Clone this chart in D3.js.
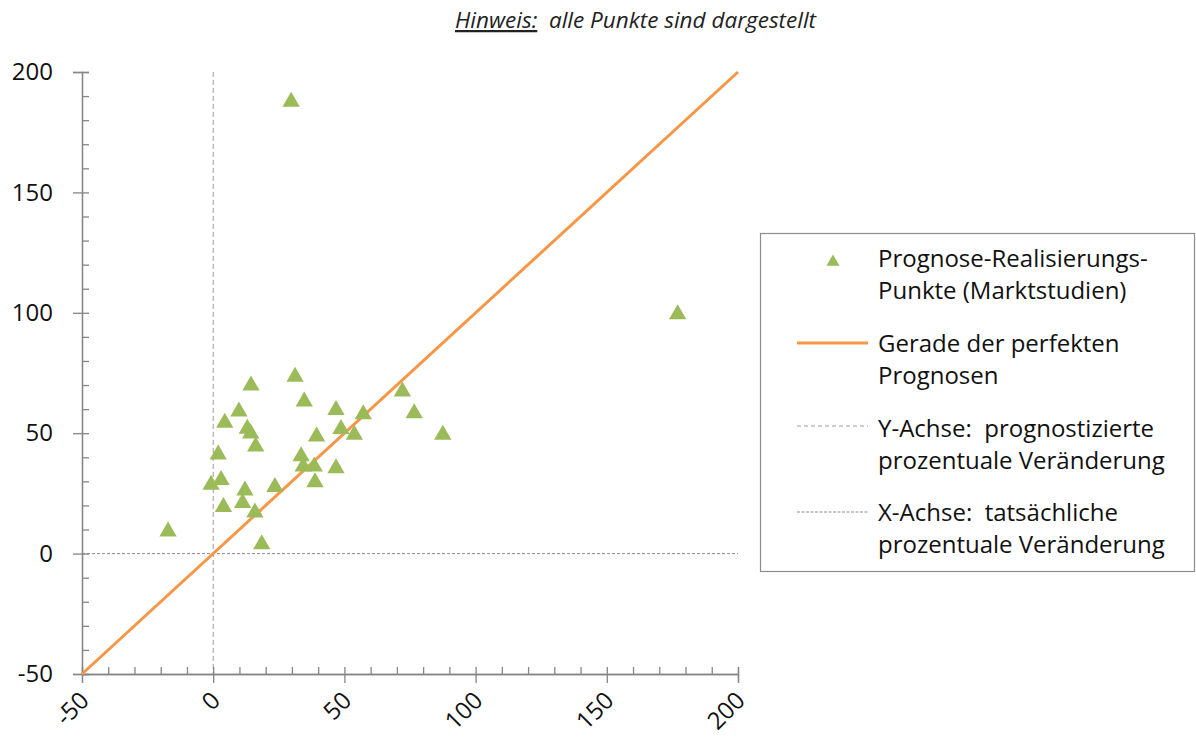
<!DOCTYPE html>
<html><head><meta charset="utf-8">
<script src="https://cdn.jsdelivr.net/npm/d3@7"></script>
<style>body{margin:0;background:#fff}svg{display:block}</style>
</head><body>
<svg id="c" width="1196" height="740"></svg>
<script>
// Data: x = tatsächliche Veränderung (%), y = prognostizierte Veränderung (%)
const actualChange = [29.7,177,-17.2,-0.8,1.9,3,3.9,4.4,9.8,14.4,13,14.3,16.2,12.1,11.2,15.9,23.5,18.5,31.2,34.7,46.8,72.1,57.2,76.6,48.7,53.8,87.5,39.4,33.5,34.3,38.5,46.8,38.8];
const forecastChange = [188.3,100,9.8,29.2,41.8,31.2,20,55,59.6,70.4,52.5,50.5,45.1,26.8,21.6,17.7,28.3,4.5,74.1,63.8,60.3,67.9,58.5,58.9,52.4,50,50,49.3,41,36.8,36.8,36.1,30.3];
const perfectLine = [-50, 200];
const majorTicks = [-50, 0, 50, 100, 150, 200];
const minorTicks = d3.range(-50, 201, 10);
const titleUnderlined = "Hinweis:";
const titleRest = "alle Punkte sind dargestellt";
const legendLabels = [
  ["Prognose-Realisierungs-", "Punkte (Marktstudien)"],
  ["Gerade der perfekten", "Prognosen"],
  ["Y-Achse:\u00a0 prognostizierte", "prozentuale Veränderung"],
  ["X-Achse:\u00a0 tatsächliche", "prozentuale Veränderung"]
];

const FONT = "'Open Sans', sans-serif";
const svg = d3.select("#c");
const x = d3.scaleLinear().domain([-50, 200]).range([82, 738]);
const y = d3.scaleLinear().domain([-50, 200]).range([674, 72]);
const axisColor = "#868686";
const green = "#9BBB59", orange = "#F79646";
const fmt = d => String(d);

// Title
const t = svg.append("text").attr("x", 455).attr("y", 28)
  .style("font-family", FONT).style("font-style", "italic").style("font-size", "22.5px").attr("fill", "#222");
t.append("tspan").text(titleUnderlined).style("text-decoration", "underline");
t.append("tspan").text("\u00a0\u00a0" + titleRest);

// zero reference lines
svg.append("line").attr("x1", x(0)).attr("x2", x(0)).attr("y1", y(200)).attr("y2", y(-50))
  .attr("stroke", "#9a9a9a").attr("stroke-width", 1).attr("stroke-dasharray", "5,3");
svg.append("line").attr("x1", x(-50)).attr("x2", x(200)).attr("y1", y(0)).attr("y2", y(0))
  .attr("stroke", "#8a8a8a").attr("stroke-width", 1).attr("stroke-dasharray", "3,2");

// Axes
function styleAxis(g) {
  g.selectAll(".domain").attr("stroke", axisColor).attr("stroke-width", 1.3);
  g.selectAll(".tick line").attr("stroke", axisColor).attr("stroke-width", 1.3);
}
// Y axis
const yMinor = svg.append("g").attr("transform", `translate(${x(-50)},0)`)
  .call(d3.axisRight(y).tickValues(minorTicks).tickSize(7).tickFormat(""));
yMinor.call(styleAxis);
const yMajor = svg.append("g").attr("transform", `translate(${x(-50)},0)`)
  .call(d3.axisLeft(y).tickValues(majorTicks).tickSize(9).tickPadding(20).tickFormat(fmt));
yMajor.call(styleAxis);
yMajor.selectAll("text").style("font-family", FONT).style("font-size", "24px").attr("fill", "#111");

// X axis
const xMinor = svg.append("g").attr("transform", `translate(0,${y(-50)})`)
  .call(d3.axisTop(x).tickValues(minorTicks).tickSize(7).tickFormat(""));
xMinor.call(styleAxis);
const xMajor = svg.append("g").attr("transform", `translate(0,${y(-50)})`)
  .call(d3.axisBottom(x).tickValues(majorTicks).tickSize(9).tickFormat(fmt));
xMajor.call(styleAxis);
xMajor.selectAll("text").attr("y", 0).attr("dy", 0)
  .attr("transform", "translate(8,28) rotate(-45)").style("text-anchor", "end")
  .style("font-family", FONT).style("font-size", "24px").attr("fill", "#111");

// Perfect-forecast line
svg.append("line").attr("x1", x(perfectLine[0])).attr("y1", y(perfectLine[0]))
  .attr("x2", x(perfectLine[1])).attr("y2", y(perfectLine[1]))
  .attr("stroke", orange).attr("stroke-width", 3);

// Points
const tri = d3.symbol().type(d3.symbolTriangle).size(130);
const pts = actualChange.map((v, i) => ({x: v, y: forecastChange[i]}));
svg.append("g").selectAll("path").data(pts).join("path")
  .attr("d", tri).attr("transform", d => `translate(${x(d.x)},${y(d.y) + 1.5})`)
  .attr("fill", green);

// Legend
const lg = svg.append("g");
lg.append("rect").attr("x", 760.5).attr("y", 233.5).attr("width", 434).attr("height", 338)
  .attr("fill", "#fff").attr("stroke", "#8c8c8c").attr("stroke-width", 1.2);
const baseY = [267, 352, 437, 521];
legendLabels.forEach((lines, i) => {
  lines.forEach((s, j) => {
    lg.append("text").attr("x", 878).attr("y", baseY[i] + j * 32).text(s)
      .style("font-family", FONT).style("font-size", "24px").attr("fill", "#111");
  });
});
lg.append("path").attr("d", d3.symbol().type(d3.symbolTriangle).size(75))
  .attr("transform", "translate(833,262)").attr("fill", green);
lg.append("line").attr("x1", 797).attr("x2", 868).attr("y1", 343).attr("y2", 343)
  .attr("stroke", orange).attr("stroke-width", 3);
lg.append("line").attr("x1", 797).attr("x2", 868).attr("y1", 426).attr("y2", 426)
  .attr("stroke", "#9a9a9a").attr("stroke-width", 1).attr("stroke-dasharray", "4,3");
lg.append("line").attr("x1", 797).attr("x2", 868).attr("y1", 512).attr("y2", 512)
  .attr("stroke", "#8a8a8a").attr("stroke-width", 1).attr("stroke-dasharray", "3,1.5");
</script>
</body></html>
